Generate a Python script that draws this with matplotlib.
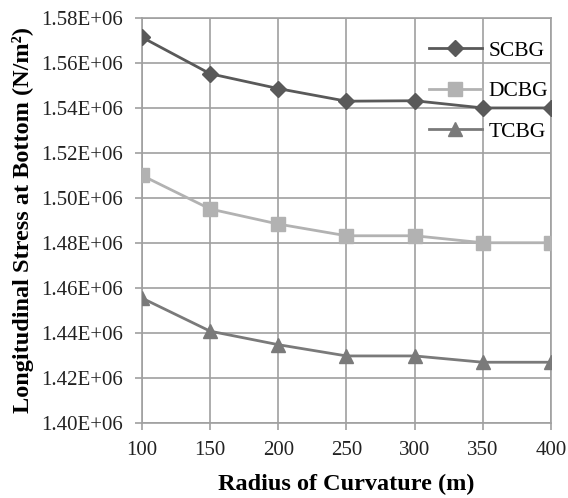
import matplotlib.pyplot as plt
from matplotlib.ticker import FuncFormatter

# radius of curvature (m)
radius = [100, 150, 200, 250, 300, 350, 400]

# longitudinal stress at bottom (N/m^2)
scbg = [1.5714e6, 1.5552e6, 1.5486e6, 1.5430e6, 1.5432e6, 1.5400e6, 1.5400e6]
dcbg = [1.5100e6, 1.4951e6, 1.4884e6, 1.4832e6, 1.4832e6, 1.4801e6, 1.4801e6]
tcbg = [1.4555e6, 1.4408e6, 1.4348e6, 1.4298e6, 1.4298e6, 1.4270e6, 1.4270e6]

plt.rcParams['font.family'] = ['Liberation Serif', 'DejaVu Serif']

fig = plt.figure(figsize=(5.68, 4.98), dpi=100)
ax = fig.add_axes([0.25, 0.1506, 0.72, 0.8134])

ax.plot(radius, scbg, color='#595959', marker='D', markersize=8.5, lw=2,
        label='SCBG', zorder=3)
ax.plot(radius, dcbg, color='#b2b2b2', marker='s', markersize=10.5, lw=2,
        label='DCBG', zorder=3)
ax.plot(radius, tcbg, color='#7a7a7a', marker='^', markersize=10.5, lw=2,
        label='TCBG', zorder=3)

ax.set_xlim(100, 400)
ax.set_ylim(1.40e6, 1.58e6)
ax.set_xticks(radius)
ax.set_yticks([1.40e6 + 0.02e6 * i for i in range(10)])
ax.yaxis.set_major_formatter(FuncFormatter(lambda v, p: f'{v:.2E}'))

ax.grid(True, color='#a0a0a0', lw=1.2)
ax.set_axisbelow(True)
for s in ax.spines.values():
    s.set_color('#a0a0a0')
    s.set_linewidth(1.2)
ax.tick_params(axis='both', colors='#a0a0a0', length=5, width=1.2,
               labelsize=15, labelcolor='#222222')
ax.tick_params(axis='y', pad=9)
ax.tick_params(axis='x', pad=8)

ax.set_xlabel('Radius of Curvature (m)', fontsize=17.5, fontweight='bold',
              labelpad=10)
ax.set_ylabel('Longitudinal Stress at Bottom (N/m²)', fontsize=17.5,
              fontweight='bold', labelpad=5)

ax.legend(loc='upper right', bbox_to_anchor=(1.015, 0.965), frameon=False,
          fontsize=15.5, handlelength=2.5, labelspacing=0.95,
          handletextpad=0.3, borderaxespad=0.0)

fig.savefig('out.png', dpi=100)
